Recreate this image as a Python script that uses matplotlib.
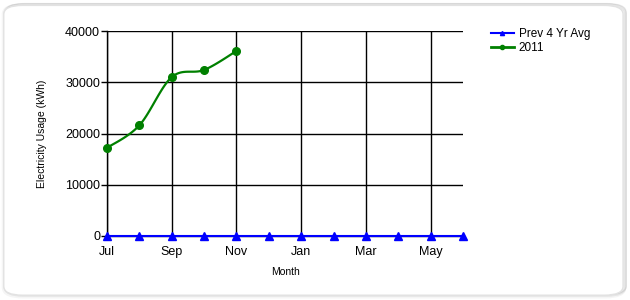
import numpy as np
import matplotlib
matplotlib.use('Agg')
import matplotlib.pyplot as plt
from matplotlib.patches import FancyBboxPatch

months = ['Jul','Aug','Sep','Oct','Nov','Dec','Jan','Feb','Mar','Apr','May','Jun']
prev_avg = [0,0,0,0,0,0,0,0,0,0,0,0]
usage_2011 = [17200,21600,31000,32400,36100]

plt.rcParams['font.family'] = ['Liberation Sans','DejaVu Sans']

def cardinal(x, y, tension=0.5, n=20):
	# smooth line through the points, like the chart control does
	x = np.asarray(x, float); y = np.asarray(y, float)
	px = np.concatenate([[x[0]], x, [x[-1]]])
	py = np.concatenate([[y[0]], y, [y[-1]]])
	xs, ys = [], []
	t = np.linspace(0, 1, n)
	for i in range(1, len(px)-2):
		mx0 = tension*(px[i+1]-px[i-1]); my0 = tension*(py[i+1]-py[i-1])
		mx1 = tension*(px[i+2]-px[i]); my1 = tension*(py[i+2]-py[i])
		h00 = 2*t**3-3*t**2+1; h10 = t**3-2*t**2+t
		h01 = -2*t**3+3*t**2; h11 = t**3-t**2
		xs.append(h00*px[i]+h10*mx0+h01*px[i+1]+h11*mx1)
		ys.append(h00*py[i]+h10*my0+h01*py[i+1]+h11*my1)
	return np.concatenate(xs), np.concatenate(ys)

fig = plt.figure(figsize=(6.3,3.0), dpi=100)

# rounded frame with soft shadow
for k, a in enumerate([0.04,0.06,0.08]):
	fig.patches.append(FancyBboxPatch((0.006+0.0015*k,0.012+0.003*k),0.985,0.97,
		boxstyle='round,pad=0,rounding_size=0.03', transform=fig.transFigure,
		facecolor='none', edgecolor=(0,0,0,a), linewidth=3-k, zorder=-2))
fig.patches.append(FancyBboxPatch((0.006,0.016),0.983,0.966,
	boxstyle='round,pad=0,rounding_size=0.03', transform=fig.transFigure,
	facecolor='white', edgecolor='#e2e2e2', linewidth=1, zorder=-1))

ax = fig.add_axes([107/630, 1-236/300, (463-107)/630, (236-31)/300])
ax.set_facecolor('none')

xi = np.arange(len(months))
ax.plot(xi, prev_avg, color='blue', linewidth=1.5, marker='^', markersize=6, clip_on=False, zorder=5, label='Prev 4 Yr Avg')
sx, sy = cardinal(xi[:len(usage_2011)], usage_2011)
ax.plot(sx, sy, color='green', linewidth=1.6, zorder=4)
ax.plot(xi[:len(usage_2011)], usage_2011, color='green', linestyle='none', marker='o', markersize=5.5, zorder=4, clip_on=False)
ax.plot([], [], color='green', linewidth=2, marker='o', markersize=3, label='2011')

ax.set_xlim(0, 11)
ax.set_ylim(0, 40000)
ax.set_xticks(xi[::2])
ax.set_xticklabels(months[::2], fontsize=9)
ax.set_yticks([0,10000,20000,30000,40000])
ax.set_yticklabels(['0','10000','20000','30000','40000'], fontsize=9)
ax.grid(True, color='black', linewidth=1)
ax.tick_params(axis='x', length=0, pad=7)
ax.tick_params(axis='y', length=4, width=1, pad=1)
for s in ['top','right']:
	ax.spines[s].set_visible(False)
ax.spines['left'].set_linewidth(1)
ax.spines['bottom'].set_linewidth(1)

ax.set_xlabel('Month', fontsize=7.5, labelpad=7)
ax.set_ylabel('Electricity Usage (kWh)', fontsize=7.5, labelpad=13)

leg = ax.legend(loc='upper left', bbox_to_anchor=(1.079, 1.015), frameon=False, fontsize=8.5,
	handlelength=1.9, handletextpad=0.45, labelspacing=0.15, borderaxespad=0, borderpad=0)
for h in leg.legend_handles:
	h.set_markersize(3)

fig.savefig('out.png', dpi=100)
